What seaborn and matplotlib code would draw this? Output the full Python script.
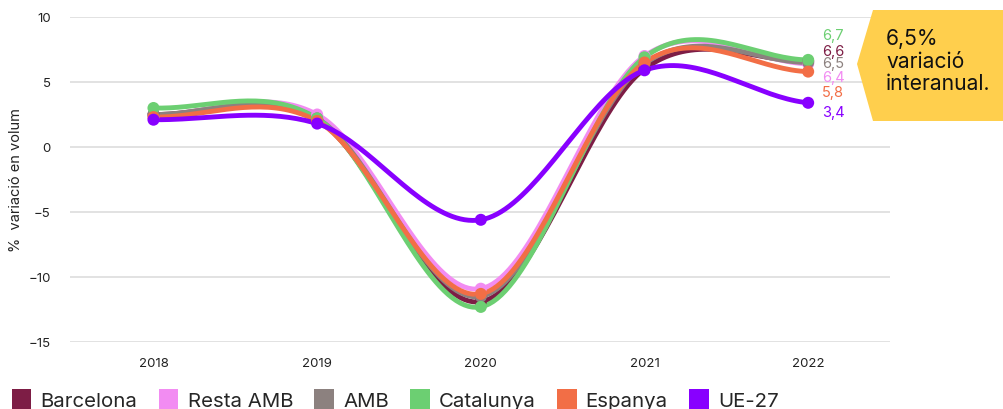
import numpy as np
import pandas as pd
import matplotlib
matplotlib.use("Agg")
import matplotlib.pyplot as plt
import seaborn as sns
from matplotlib.patches import Polygon, Patch

years = [2018, 2019, 2020, 2021, 2022]
series = ["Barcelona", "Resta AMB", "AMB", "Catalunya", "Espanya", "UE-27"]
barcelona = [2.5, 2.1, -11.9, 6.0, 6.6]
resta_amb = [2.4, 2.5, -10.9, 7.0, 6.4]
amb = [2.5, 2.2, -11.5, 6.4, 6.5]
catalunya = [3.0, 2.2, -12.3, 6.9, 6.7]
espanya = [2.3, 2.0, -11.3, 6.5, 5.8]
ue27 = [2.1, 1.8, -5.6, 5.9, 3.4]
end_labels = ["6,7", "6,6", "6,5", "6,4", "5,8", "3,4"]
end_label_series = ["Catalunya", "Barcelona", "AMB", "Resta AMB", "Espanya", "UE-27"]
colors = ["#7d1d45", "#f28cf2", "#8c817f", "#6ccf72", "#f26e46", "#8800ff"]

values = [barcelona, resta_amb, amb, catalunya, espanya, ue27]
palette = dict(zip(series, colors))

# label stacking on the right side (data-y of each label)
label_y = [8.65, 7.4, 6.45, 5.4, 4.25, 2.7]


def catmull_rom(xs, ys, n=40):
    xs = np.asarray(xs, float)
    ys = np.asarray(ys, float)
    m = np.zeros_like(ys)
    m[1:-1] = (ys[2:] - ys[:-2]) / 2
    m[0] = (ys[1] - ys[0]) / 2
    m[-1] = (ys[-1] - ys[-2]) / 2
    out_x, out_y = [], []
    for i in range(len(xs) - 1):
        t = np.linspace(0, 1, n, endpoint=(i == len(xs) - 2))
        h00 = 2 * t**3 - 3 * t**2 + 1
        h10 = t**3 - 2 * t**2 + t
        h01 = -2 * t**3 + 3 * t**2
        h11 = t**3 - t**2
        out_x.append(xs[i] + t * (xs[i + 1] - xs[i]))
        out_y.append(h00 * ys[i] + h10 * m[i] + h01 * ys[i + 1] + h11 * m[i + 1])
    return np.concatenate(out_x), np.concatenate(out_y)


pts = pd.DataFrame([(s, y, v) for s, vals in zip(series, values) for y, v in zip(years, vals)],
                   columns=["serie", "any", "valor"])
rows = []
for s, vals in zip(series, values):
    cx, cy = catmull_rom(years, vals)
    rows += [(s, a, b) for a, b in zip(cx, cy)]
curves = pd.DataFrame(rows, columns=["serie", "any", "valor"])

sns.set_theme(style="white")
plt.rcParams["font.family"] = ["Inter", "DejaVu Sans"]

fig = plt.figure(figsize=(10.04, 4.10), dpi=100)
ax = fig.add_axes([70 / 1004, 1 - 343 / 410, 820 / 1004, 325 / 410])

for s in series:
    sub = curves[curves.serie == s]
    sns.lineplot(data=sub, x="any", y="valor", color=palette[s], lw=3.5, ax=ax,
                 sort=False, legend=False, zorder=3)
    p = pts[pts.serie == s]
    sns.scatterplot(data=p, x="any", y="valor", color=palette[s], s=75,
                    edgecolor="none", ax=ax, legend=False, zorder=4)

for lab, s, ly in zip(end_labels, end_label_series, label_y):
    ax.text(2022.085, ly, lab, color=palette[s], fontsize=10.5, va="center", ha="left")

ax.set_xlim(2017.49, 2022.5)
ax.set_ylim(-15, 10)
ax.set_yticks([10, 5, 0, -5, -10, -15])
ax.set_xticks(years)
ax.set_xticklabels([str(y) for y in years])
ax.yaxis.grid(True, color="#dddddd", lw=1.2)
ax.xaxis.grid(False)
for sp in ax.spines.values():
    sp.set_visible(False)
ax.tick_params(axis="both", length=0, labelsize=9.5, colors="#222222")
ax.tick_params(axis="y", pad=14)
ax.tick_params(axis="x", pad=11)
ax.set_xlabel("")
ax.set_ylabel("%  variació en volum", fontsize=10.5, color="#222222", labelpad=4)

# callout box
W, H = 1004, 410
poly_px = [(857, 65), (873, 11), (1010, 11), (1010, 122), (873, 122)]
poly = Polygon([(x / W, 1 - y / H) for x, y in poly_px], closed=True,
               transform=fig.transFigure, facecolor="#ffcf4d", edgecolor="none")
fig.patches.append(poly)
fig.text(886 / W, 1 - 29 / H, "6,5%\nvariació\ninteranual.", fontsize=15.2,
         color="#111111", va="top", ha="left", linespacing=1.17)

handles = [Patch(facecolor=c, edgecolor="none") for c in colors]
fig.legend(handles, series, loc="upper left", bbox_to_anchor=(0.012, 0.05),
           ncol=6, frameon=False, fontsize=14.7, handlelength=0.95, handleheight=1.2,
           handletextpad=0.45, columnspacing=1.05, borderaxespad=0, borderpad=0)

fig.savefig("out.png", dpi=100)
